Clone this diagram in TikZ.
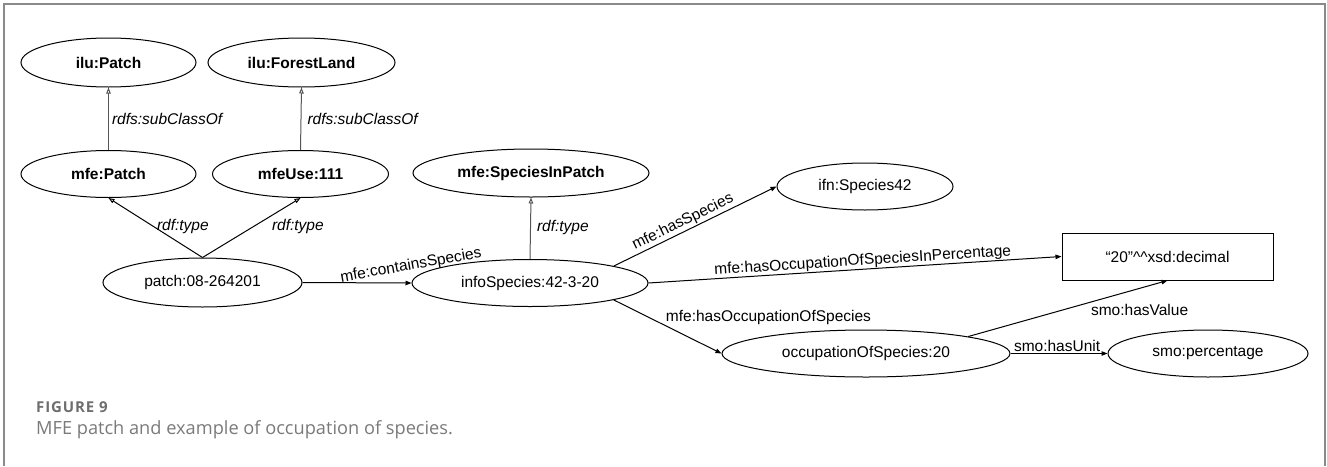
\documentclass[tikz,border=0pt]{standalone}
\usepackage{fontspec}
\setmainfont{Liberation Sans}
\newfontfamily\capfont{Open Sans}
\usetikzlibrary{arrows.meta,shapes.geometric}

\definecolor{framegray}{HTML}{8A8A8A}
\definecolor{capgray}{HTML}{6E6E6E}
\definecolor{captxt}{HTML}{7A7A7A}
\definecolor{edgegray}{HTML}{555555}

\tikzset{
  cls/.style={ellipse, draw, line width=1pt, inner sep=0pt, font=\fontsize{15.5}{18}\selectfont\bfseries},
  inst/.style={ellipse, draw, line width=1pt, inner sep=0pt, font=\fontsize{15.5}{18}\selectfont},
  litbox/.style={rectangle, draw, line width=1pt, inner sep=0pt, font=\fontsize{15.5}{18}\selectfont},
  rel/.style={line width=1pt, -{Triangle[length=6pt, width=4.5pt]}},
  typ/.style={line width=1pt, -{Triangle[open, length=6pt, width=4.5pt]}},
  lbl/.style={font=\fontsize{15.5}{18}\selectfont, inner sep=1pt, text=black},
  ilbl/.style={font=\fontsize{15.5}{18}\selectfont\itshape, inner sep=1pt, text=black},
}

\begin{document}
\begin{tikzpicture}[x=1pt, y=-1pt]
\useasboundingbox (0,0) rectangle (1327,466);

% panel frame (open at the bottom)
\draw[framegray, line width=2pt] (3.5,466) -- (3.5,3.5) -- (1324.5,3.5) -- (1324.5,466);

% class nodes
\node[cls, minimum width=175pt, minimum height=49pt] (iluPatch) at (108.5,62.5) {ilu:Patch};
\node[cls, minimum width=187pt, minimum height=49pt] (iluForest) at (301.5,62.5) {ilu:ForestLand};
\node[cls, minimum width=175pt, minimum height=47pt] (mfePatch) at (108.5,174) {mfe:Patch};
\node[cls, minimum width=176pt, minimum height=47pt] (mfeUse) at (300.5,174) {mfeUse:111};
\node[cls, minimum width=236pt, minimum height=48pt] (sip) at (531,173) {mfe:SpeciesInPatch};

% instance nodes
\node[inst, minimum width=199pt, minimum height=49pt] (patch) at (202.5,282.5) {patch:08-264201};
\node[inst, minimum width=236pt, minimum height=47pt] (info) at (530,283) {infoSpecies:42-3-20};
\node[inst, minimum width=176pt, minimum height=47pt] (ifn) at (865,186.5) {ifn:Species42};
\node[litbox, minimum width=211pt, minimum height=47pt] (lit) at (1167.5,256.5) {“20”\textasciicircum\textasciicircum xsd:decimal};
\node[inst, minimum width=288pt, minimum height=47pt] (occ) at (866,353.5) {occupationOfSpecies:20};
\node[inst, minimum width=200pt, minimum height=47pt] (pct) at (1208,353.5) {smo:percentage};

% subclass links
\draw[typ, edgegray] (mfePatch.north) -- node[ilbl, anchor=west, pos=0.5, xshift=2pt] {rdfs:subClassOf} (iluPatch.south);
\draw[typ, edgegray] (mfeUse.north) -- node[ilbl, anchor=west, pos=0.5, xshift=5pt] {rdfs:subClassOf} (iluForest.south);

% type links
\draw[typ] (patch.north) -- node[ilbl, anchor=west, pos=0.5, yshift=1pt] {rdf:type} (mfePatch.south);
\draw[typ] (patch.north) -- node[ilbl, anchor=west, pos=0.5, xshift=19pt, yshift=1pt] {rdf:type} (mfeUse.south);
\draw[typ, edgegray] (info.north) -- node[ilbl, anchor=west, pos=0.5, xshift=5pt, yshift=1pt] {rdf:type} (sip.south);

% property links
\draw[rel] (patch.east) -- node[lbl, pos=0.5, xshift=54pt, yshift=17pt, rotate=10] {mfe:containsSpecies} (info.west);
\draw[rel] (info.north east) -- node[lbl, sloped, above, pos=0.45, inner sep=1.5pt] {mfe:hasSpecies} (ifn.west);
\draw[rel] (info.east) -- node[lbl, sloped, above, pos=0.52, inner sep=0.5pt] {mfe:hasOccupationOfSpeciesInPercentage} (lit.west);
\draw[rel] (info.south east) -- node[lbl, anchor=west, pos=0.47, yshift=8pt] {mfe:hasOccupationOfSpecies} (occ.west);
\draw[rel] (occ.north east) -- node[lbl, pos=0.86, below=14pt] {smo:hasValue} (lit.south);
\draw[rel] (occ.east) -- node[lbl, above, pos=0.48] {smo:hasUnit} (pct.west);

% caption
\node[anchor=base west, inner sep=0pt, text=capgray, font=\capfont\addfontfeature{LetterSpace=6}\bfseries\fontsize{15}{17}\selectfont] (figno) at (36,412) {FIGURE 9};
\node[anchor=base west, inner sep=0pt, text=captxt, font=\capfont\fontsize{18.2}{21}\selectfont] (cap) at (36,434.5) {MFE patch and example of occupation of species.};
\end{tikzpicture}
\end{document}
